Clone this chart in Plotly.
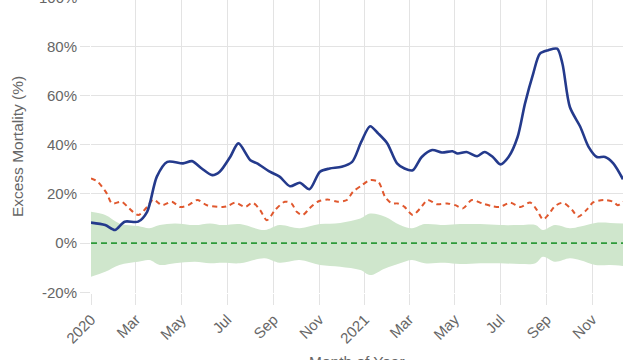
import plotly.graph_objects as go

# ---- data ----
excess_dates = ["2020-01-01","2020-01-20","2020-02-02","2020-02-15","2020-03-04","2020-03-16","2020-03-29","2020-04-12",
                "2020-05-03","2020-05-15","2020-05-28","2020-06-11","2020-06-21","2020-07-05","2020-07-16","2020-08-01",
                "2020-08-10","2020-08-27","2020-09-09","2020-09-23","2020-10-06","2020-10-19","2020-11-02","2020-11-15",
                "2020-12-01","2020-12-15","2020-12-27","2021-01-08","2021-01-19","2021-01-31","2021-02-13","2021-02-23",
                "2021-03-06","2021-03-18","2021-04-01","2021-04-14","2021-04-28","2021-05-05","2021-05-17","2021-05-31",
                "2021-06-10","2021-06-21","2021-07-01","2021-07-12","2021-07-24","2021-08-03","2021-08-14","2021-08-23",
                "2021-09-03","2021-09-15","2021-09-22","2021-10-02","2021-10-16","2021-10-27","2021-11-07","2021-11-18",
                "2021-11-29","2021-12-12"]
excess_values = [8.3,7.3,5.3,8.7,8.7,12.7,27.0,33.0,
                 32.4,33.3,30.3,27.6,29.0,35.0,40.5,33.7,
                 32.4,29.0,27.0,23.1,24.5,21.9,29.0,30.3,
                 31.0,33.0,41.0,47.5,44.5,40.5,32.4,30.3,
                 29.6,35.0,37.8,36.8,37.3,36.4,37.0,35.3,
                 37.0,35.0,32.0,35.0,43.0,56.7,68.9,77.0,
                 78.4,79.0,73.0,55.3,47.2,39.1,35.0,35.0,
                 32.4,25.9]

threshold_dates = ["2020-01-01","2020-01-10","2020-01-22","2020-01-29","2020-02-11","2020-02-19","2020-03-04","2020-03-16",
                   "2020-03-24","2020-04-05","2020-04-18","2020-04-29","2020-05-10","2020-05-22","2020-06-04","2020-06-25",
                   "2020-07-01","2020-07-12","2020-07-25","2020-08-04","2020-08-14","2020-08-23","2020-09-03","2020-09-16",
                   "2020-09-25","2020-10-02","2020-10-10","2020-10-19","2020-10-30","2020-11-12","2020-11-26","2020-12-08",
                   "2020-12-16","2020-12-28","2021-01-08","2021-01-19","2021-01-28","2021-02-06","2021-02-14","2021-02-23",
                   "2021-03-06","2021-03-16","2021-03-26","2021-04-07","2021-04-21","2021-05-02","2021-05-12","2021-05-24",
                   "2021-06-07","2021-06-20","2021-07-01","2021-07-14","2021-07-28","2021-08-10","2021-08-19","2021-08-27",
                   "2021-09-03","2021-09-12","2021-09-23","2021-10-05","2021-10-13","2021-10-25","2021-11-02","2021-11-16",
                   "2021-11-29","2021-12-05","2021-12-12"]
threshold_values = [26.3,24.9,20.2,16.1,16.8,14.7,11.4,14.7,
                    17.7,15.4,16.8,14.7,15.4,17.5,15.4,14.7,
                    15.0,16.4,14.7,16.4,13.4,9.3,13.4,16.8,
                    16.1,12.7,11.4,14.1,16.8,17.7,16.8,17.5,
                    20.8,23.5,25.6,24.9,18.8,16.1,16.1,14.7,
                    11.4,14.1,17.5,15.8,16.1,15.4,14.1,17.5,
                    16.1,15.0,14.7,16.4,14.7,16.5,13.4,9.6,
                    11.4,15.0,16.4,13.4,10.7,13.7,16.5,17.5,
                    16.8,15.4,16.8]

band_dates = ["2020-01-01","2020-01-20","2020-02-08","2020-03-04","2020-03-19","2020-04-02","2020-04-22","2020-05-19",
              "2020-06-08","2020-06-25","2020-07-18","2020-08-20","2020-09-09","2020-10-06","2020-11-02","2020-11-29",
              "2020-12-26","2021-01-08","2021-01-28","2021-02-17","2021-03-05","2021-03-22","2021-04-18","2021-05-08",
              "2021-06-04","2021-07-01","2021-07-28","2021-08-17","2021-08-27","2021-09-12","2021-10-02","2021-10-16",
              "2021-11-05","2021-11-25","2021-12-12"]
band_upper = [12.7,11.4,8.0,6.9,6.0,7.3,8.0,7.3,
              8.0,7.3,7.7,5.3,7.3,6.0,7.7,8.2,
              10.0,12.0,10.7,7.3,6.0,7.7,7.3,7.7,
              7.7,7.3,7.3,7.3,5.3,7.3,6.0,6.7,
              8.2,8.2,8.0]
band_lower = [-13.7,-11.7,-8.9,-7.6,-6.9,-8.9,-8.2,-7.6,
              -8.2,-8.0,-8.2,-6.2,-8.0,-6.9,-8.9,-9.6,
              -11.0,-13.0,-10.3,-8.2,-6.9,-8.2,-8.0,-8.5,
              -8.2,-8.2,-8.5,-8.2,-5.6,-7.6,-6.2,-7.0,
              -8.9,-8.9,-9.3]

baseline_dates = ["2020-01-01", "2021-12-12"]
baseline_values = [0, 0]

x_tick_vals = ["2020-01-01","2020-03-01","2020-05-01","2020-07-01","2020-09-01","2020-11-01",
               "2021-01-01","2021-03-01","2021-05-01","2021-07-01","2021-09-01","2021-11-01"]
x_tick_text = ["2020","Mar","May","Jul","Sep","Nov","2021","Mar","May","Jul","Sep","Nov"]
y_tick_vals = [-20, 0, 20, 40, 60, 80]
y_tick_text = ["-20%", "0%", "20%", "40%", "60%", "80%"]

FONT = "Liberation Sans, Arial, sans-serif"
GRID = "#e3e3e3"
TXT = "#666666"

fig = go.Figure()
fig.add_trace(go.Scatter(x=band_dates, y=band_lower, mode="lines", line=dict(width=0, shape="spline"),
                         hoverinfo="skip", showlegend=False))
fig.add_trace(go.Scatter(x=band_dates, y=band_upper, mode="lines", line=dict(width=0, shape="spline"),
                         fill="tonexty", fillcolor="rgb(207,230,204)", hoverinfo="skip", showlegend=False))
fig.add_trace(go.Scatter(x=baseline_dates, y=baseline_values, mode="lines",
                         line=dict(color="#2e9a3a", width=1.8, dash="6px,4px"), showlegend=False))
fig.add_trace(go.Scatter(x=threshold_dates, y=threshold_values, mode="lines",
                         line=dict(color="#e0582e", width=2, dash="5px,4px", shape="spline", smoothing=0.8),
                         showlegend=False))
fig.add_trace(go.Scatter(x=excess_dates, y=excess_values, mode="lines",
                         line=dict(color="#243a8c", width=2.6, shape="spline", smoothing=0.8),
                         showlegend=False))

fig.update_layout(
    width=640, height=360,
    margin=dict(l=91, r=17, t=0, b=67),
    paper_bgcolor="white", plot_bgcolor="white",
    font=dict(family=FONT, size=15, color=TXT),
    showlegend=False,
    annotations=[
        dict(text="100%", xref="paper", yref="paper", x=0, y=1.01, xanchor="right",
             yanchor="middle", xshift=-12, showarrow=False,
             font=dict(family=FONT, size=15, color=TXT)),
        dict(text="Month of Year", xref="paper", yref="paper", x=0.5, y=-0.198, xanchor="center",
             yanchor="top", showarrow=False, font=dict(family=FONT, size=15.5, color=TXT)),
    ],
)
fig.update_xaxes(range=["2020-01-01", "2021-12-12"], tickvals=x_tick_vals, ticktext=x_tick_text,
                 tickangle=-45, showgrid=True, gridcolor=GRID, gridwidth=1,
                 ticks="outside", ticklen=11, tickcolor=GRID, showline=False, zeroline=False,
                 tickfont=dict(size=15, color=TXT), automargin=False)
fig.update_yaxes(range=[-20.3, 98.8], tickvals=y_tick_vals, ticktext=y_tick_text,
                 showgrid=True, gridcolor=GRID, gridwidth=1, zeroline=False,
                 ticks="outside", ticklen=10, tickcolor=GRID, showline=False,
                 tickfont=dict(size=15, color=TXT), automargin=False,
                 title=dict(text="Excess Mortality (%)", font=dict(size=15.5, color=TXT), standoff=14))

fig.write_html("out.html", config={"displayModeBar": False},
               post_script="document.body.style.margin='0';")
